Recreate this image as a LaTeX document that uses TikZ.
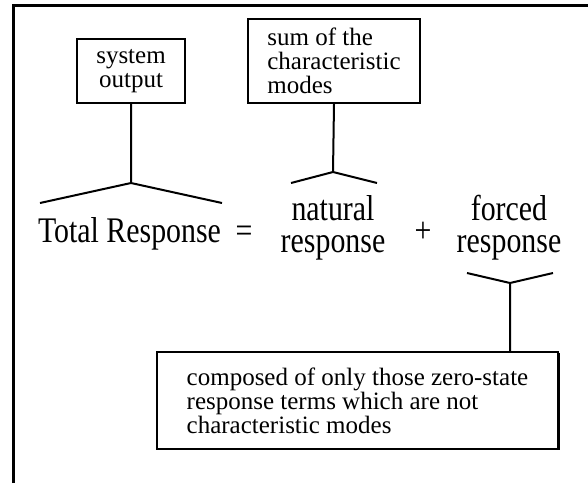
\documentclass[tikz,border=0pt]{standalone}
\usepackage{fontspec}
\setmainfont{Liberation Serif}
\newfontfamily\tallfont[FakeStretch=0.83]{Liberation Serif}
\usetikzlibrary{shadows}
\tikzset{
  labelbox/.style={draw, line width=2pt, inner sep=0pt, fill=white, font=\fontsize{25}{24}\selectfont},
  bigtext/.style={inner sep=0pt, font=\tallfont\fontsize{36}{32}\selectfont},
  brace/.style={line width=2pt}
}
\begin{document}
\begin{tikzpicture}[x=1pt, y=-1pt]
        \useasboundingbox (0,0) rectangle (588,483);
        %cornice
        \draw[line width=3pt] (13.5,483) -- (13.5,5.5) -- (588,5.5);

        %riquadri
        \node[labelbox, minimum width=108, minimum height=64, align=center] (sysbox) at (131,71) {system\\output};
        \node[labelbox, minimum width=172, minimum height=84, align=left] (sumbox) at (334,61) {sum of the\\characteristic\\modes};
        \node[labelbox, minimum width=401, minimum height=97, align=left,
          general shadow={fill=black, shadow xshift=1.8pt, shadow yshift=-0.8pt}] (notebox) at (357.5,400.5)
          {composed of only those zero-state\\response terms which are not\\characteristic modes};

        %equazione
        \node[bigtext, anchor=base] (total) at (129.5,242) {Total Response};
        \node[bigtext] (eq) at (244,234) {=};
        \node[bigtext, align=center] (natural) at (333,228) {natural\\response};
        \node[bigtext] (plus) at (423,232) {+};
        \node[bigtext, align=center] (forced) at (509,228) {forced\\response};

        %graffe
        \coordinate (tv1) at (131,183);
        \coordinate (tl1) at (40,203);
        \coordinate (tr1) at (222,203);
        \coordinate (tv2) at (333,172);
        \coordinate (tl2) at (291,183);
        \coordinate (tr2) at (377,183);
        \coordinate (tv3) at (510,283);
        \coordinate (tl3) at (467,273);
        \coordinate (tr3) at (553,273);

        \draw[brace] (sysbox.south) -- (tv1) (tl1) -- (tv1) -- (tr1);
        \draw[brace] (sumbox.south) -- (tv2) (tl2) -- (tv2) -- (tr2);
        \draw[brace] (tv3 |- notebox.north) -- (tv3) (tl3) -- (tv3) -- (tr3);
    \end{tikzpicture}
\end{document}
